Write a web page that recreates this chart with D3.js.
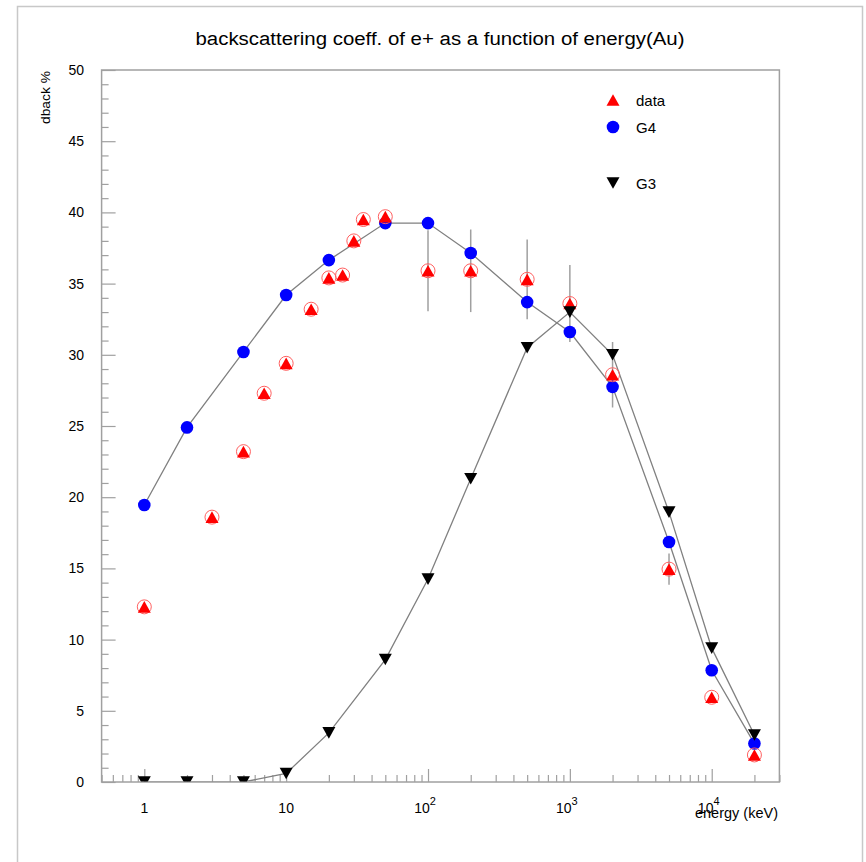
<!DOCTYPE html>
<html>
<head>
<meta charset="utf-8">
<script src="https://cdn.jsdelivr.net/npm/d3@7"></script>
<style>
  body { margin: 0; background: #fff; }
  text { font-family: "Liberation Sans", Arial, Helvetica, sans-serif; fill: #000; }
</style>
</head>
<body>
<svg id="chart" width="866" height="862"></svg>
<script>
// Measured backscattering coefficients (%) of e+ on gold
const dataEnergy = [1, 3, 5, 7, 10, 15, 20, 25, 30, 35, 50, 100, 200, 500, 1000, 2000, 5000, 10000, 20000];
const dataValue  = [12.3, 18.6, 23.2, 27.3, 29.4, 33.2, 35.4, 35.6, 38.0, 39.5, 39.7, 35.9, 35.9, 35.3, 33.6, 28.6, 14.95, 5.95, 1.9];
const dataError  = [0, 0, 0, 0, 0, 0, 0, 0, 0, 0, 0, 2.85, 2.9, 2.8, 2.7, 2.3, 1.1, 0, 0];

// Geant4 simulation
const g4Energy = [1, 2, 5, 10, 20, 50, 100, 200, 500, 1000, 2000, 5000, 10000, 20000];
const g4Value  = [19.45, 24.9, 30.2, 34.2, 36.65, 39.25, 39.25, 37.15, 33.7, 31.6, 27.75, 16.85, 7.85, 2.7];

// Geant3 simulation
const g3Energy = [1, 2, 5, 10, 20, 50, 100, 200, 500, 1000, 2000, 5000, 10000, 20000];
const g3Value  = [0, 0, 0, 0.6, 3.45, 8.6, 14.25, 21.3, 30.5, 33.0, 30.0, 18.95, 9.4, 3.3];

// Axis ticks
const xMajorTicks = [1, 10, 100, 1000, 10000];
const xTickLabels = [["1", ""], ["10", ""], ["10", "2"], ["10", "3"], ["10", "4"]];
const yMajorTicks = [0, 5, 10, 15, 20, 25, 30, 35, 40, 45, 50];

const legendItems = [
  { label: "data", kind: "data" },
  { label: "G4", kind: "g4" },
  { label: "G3", kind: "g3" }
];

const svg = d3.select("#chart");
const plot = { left: 101.6, right: 779.4, top: 70, bottom: 782 };

const x = d3.scaleLog().domain([0.5, 30000]).range([plot.left, plot.right]);
const y = d3.scaleLinear().domain([0, 50]).range([plot.bottom, plot.top]);

// Marks are clipped to the frame
svg.append("defs").append("clipPath").attr("id", "frameClip")
  .append("rect")
  .attr("x", plot.left).attr("y", plot.top)
  .attr("width", plot.right - plot.left).attr("height", plot.bottom - plot.top - 0.5);

// Outer canvas border
svg.append("rect")
  .attr("x", 17.5).attr("y", 6.5).attr("width", 845).attr("height", 900)
  .attr("fill", "none").attr("stroke", "#c8c8c8").attr("stroke-width", 1.5);

// Title
svg.append("text")
  .attr("x", 440).attr("y", 45)
  .attr("text-anchor", "middle")
  .attr("font-size", 18)
  .attr("textLength", 489).attr("lengthAdjust", "spacingAndGlyphs")
  .text("backscattering coeff. of e+ as a function of energy(Au)");

// Plot frame
svg.append("rect")
  .attr("x", plot.left).attr("y", plot.top)
  .attr("width", plot.right - plot.left).attr("height", plot.bottom - plot.top)
  .attr("fill", "none").attr("stroke", "#a0a0a0").attr("stroke-width", 1.5);

// Y axis: major and minor ticks pointing into the frame
const yMinor = d3.range(0, 51, 1).filter(v => v % 5 !== 0);
const yAxisMajor = d3.axisRight(y).tickValues(yMajorTicks).tickSize(14).tickFormat("");
const yAxisMinor = d3.axisRight(y).tickValues(yMinor).tickSize(7).tickFormat("");
[yAxisMajor, yAxisMinor].forEach(ax => {
  const g = svg.append("g").attr("transform", `translate(${plot.left},0)`).call(ax);
  g.select(".domain").remove();
  g.selectAll("line").attr("stroke", "#a0a0a0").attr("stroke-width", 1.2);
});
svg.append("g").selectAll("text").data(yMajorTicks).join("text")
  .attr("x", 84).attr("y", d => y(d))
  .attr("text-anchor", "end").attr("dominant-baseline", "central")
  .attr("font-size", 14)
  .text(d => d);

// X axis: decade ticks long, intermediate ticks short
const xAll = x.ticks();
const xMinor = xAll.filter(v => !xMajorTicks.some(m => Math.abs(m - v) < 1e-9));
const xAxisMajor = d3.axisTop(x).tickValues(xMajorTicks).tickSize(13).tickFormat("");
const xAxisMinor = d3.axisTop(x).tickValues(xMinor).tickSize(7).tickFormat("");
[xAxisMajor, xAxisMinor].forEach(ax => {
  const g = svg.append("g").attr("transform", `translate(0,${plot.bottom})`).call(ax);
  g.select(".domain").remove();
  g.selectAll("line").attr("stroke", "#a0a0a0").attr("stroke-width", 1.2);
});
const xl = svg.append("g").selectAll("text").data(xMajorTicks).join("text")
  .attr("x", (d, i) => x(d) - (xTickLabels[i][1] ? 3 : 0))
  .attr("y", 813)
  .attr("text-anchor", "middle")
  .attr("font-size", 14);
xl.append("tspan").text((d, i) => xTickLabels[i][0]);
xl.append("tspan").attr("dy", -8).attr("font-size", 11).text((d, i) => xTickLabels[i][1]);

// Axis titles
svg.append("text")
  .attr("x", 778).attr("y", 818)
  .attr("text-anchor", "end").attr("font-size", 14)
  .attr("textLength", 83).attr("lengthAdjust", "spacingAndGlyphs")
  .text("energy (keV)");
svg.append("text")
  .attr("transform", "translate(50,71) rotate(-90)")
  .attr("text-anchor", "end").attr("font-size", 13)
  .attr("textLength", 53).attr("lengthAdjust", "spacingAndGlyphs")
  .text("dback %");

const marks = svg.append("g").attr("clip-path", "url(#frameClip)");

// Simulation curves joining successive points
const curve = (ex, vals) => d3.line()
  .x((d, i) => x(ex[i]))
  .y(d => y(d))(vals);

marks.append("path").attr("d", curve(g4Energy, g4Value))
  .attr("fill", "none").attr("stroke", "#808080").attr("stroke-width", 1.3);
marks.append("path").attr("d", curve(g3Energy, g3Value))
  .attr("fill", "none").attr("stroke", "#808080").attr("stroke-width", 1.3);

// Error bars on measurements
marks.append("g").selectAll("line")
  .data(dataValue.map((v, i) => ({ e: dataEnergy[i], v, err: dataError[i] })).filter(d => d.err > 0))
  .join("line")
  .attr("x1", d => x(d.e)).attr("x2", d => x(d.e))
  .attr("y1", d => y(d.v + d.err)).attr("y2", d => y(d.v - d.err))
  .attr("stroke", "#a0a0a0").attr("stroke-width", 1.5);

// Marker drawing helpers (triangles centred on their bounding box)
const triUp = "M0,-5.8L6.5,5.8L-6.5,5.8Z";
const triDown = "M0,5.8L6.5,-5.8L-6.5,-5.8Z";

function drawData(g, cx, cy) {
  g.append("circle").attr("cx", cx).attr("cy", cy).attr("r", 7)
    .attr("fill", "none").attr("stroke", "#ff6060").attr("stroke-width", 1);
  g.append("path").attr("d", triUp).attr("transform", `translate(${cx},${cy})`).attr("fill", "#ff0000");
}
function drawG4(g, cx, cy) {
  g.append("circle").attr("cx", cx).attr("cy", cy).attr("r", 6.3).attr("fill", "#0000ff");
}
function drawG3(g, cx, cy) {
  g.append("path").attr("d", triDown).attr("transform", `translate(${cx},${cy})`).attr("fill", "#000");
}

const gG4 = marks.append("g");
g4Energy.forEach((e, i) => drawG4(gG4, x(e), y(g4Value[i])));
const gData = marks.append("g");
dataEnergy.forEach((e, i) => drawData(gData, x(e), y(dataValue[i])));
const gG3 = marks.append("g");
g3Energy.forEach((e, i) => drawG3(gG3, x(e), y(g3Value[i])));

// Legend
const legendY = [100, 127, 183];
const leg = svg.append("g");
legendItems.forEach((item, i) => {
  const cy = legendY[i];
  if (item.kind === "data") leg.append("path").attr("d", triUp).attr("transform", `translate(613,${cy})`).attr("fill", "#ff0000");
  if (item.kind === "g4") drawG4(leg, 613, cy);
  if (item.kind === "g3") drawG3(leg, 613, cy);
  leg.append("text").attr("x", 636).attr("y", cy)
    .attr("dominant-baseline", "central").attr("font-size", 15)
    .text(item.label);
});
</script>
</body>
</html>
